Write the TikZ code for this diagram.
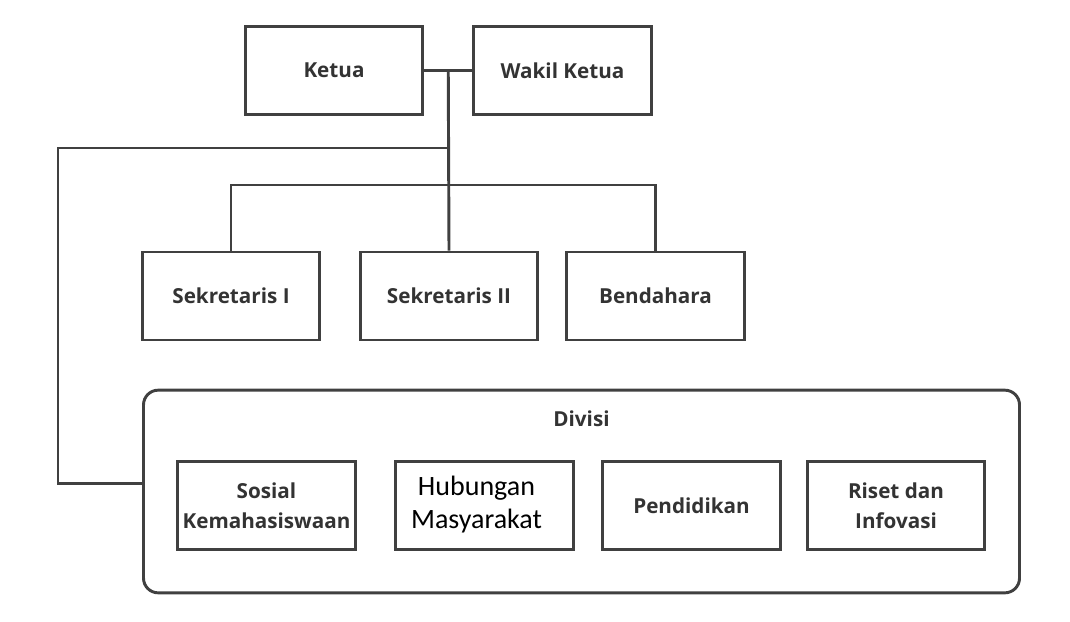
\documentclass[tikz,border=0pt]{standalone}
\usepackage{fontspec}
\setmainfont{Open Sans}
\newfontfamily\humasfont{Carlito}
\usepackage{xcolor}
\usepackage{tikz}
\usetikzlibrary{positioning,calc}
\definecolor{ink}{HTML}{333333}
\definecolor{wire}{HTML}{404040}
\tikzset{
  lbl/.style={font=\bfseries\fontsize{15.5}{22.5}\selectfont, text=ink},
}
\begin{document}
\begin{tikzpicture}[x=0.75pt, y=-0.75pt,
  unit/.style={draw=wire, fill=white, line width=2.2pt, minimum width=133pt, minimum height=66pt, align=center, lbl},
  group/.style={draw=wire, fill=white, line width=2.2pt, rounded corners=11pt, minimum width=657pt, minimum height=152pt},
  wires/.style={draw=wire, line width=2.2pt}]
\useasboundingbox (0,0) rectangle (1070,621);
\node[group] (divisi) at (581.5,491.5) {};
\node[lbl] (divlbl) at (581.5,419) {Divisi};
\node[unit] (ketua) at (334,70.5) {Ketua};
\node[unit] (wakil) at (562.5,70.5) {Wakil Ketua};
\node[unit] (sek1) at (231,296) {Sekretaris I};
\node[unit] (sek2) at (449,296) {Sekretaris II};
\node[unit] (bend) at (655.5,296) {Bendahara};
\node[unit] (sosial) at (266.5,505.5) {Sosial\\Kemahasiswaan};
\node[unit, font=\humasfont\fontsize{21}{25}\selectfont, text=black] (humas) at (484.5,505.5) {\raisebox{7pt}{\begin{tabular}{@{}c@{}}Hubungan\\Masyarakat\end{tabular}}\kern12pt};
\node[unit] (pend) at (691.5,505.5) {Pendidikan};
\node[unit] (riset) at (896,505.5) {Riset dan\\Infovasi};
\coordinate (top) at ($(ketua.east)!0.5!(wakil.west)$);
\coordinate (bar) at (449,185);
\coordinate (left) at (449,148);
\coordinate (corner) at (58,148);
\coordinate (entry) at ($(divisi.west)+(0,-8)$);
\draw[wires] (ketua) -- (wakil);
\draw[wires] (top) -- (sek2.north);
\draw[wires] (sek1.north) |- (bar) -| (bend.north);
\draw[wires] (left) -- (corner) |- (entry);
\end{tikzpicture}
\end{document}
